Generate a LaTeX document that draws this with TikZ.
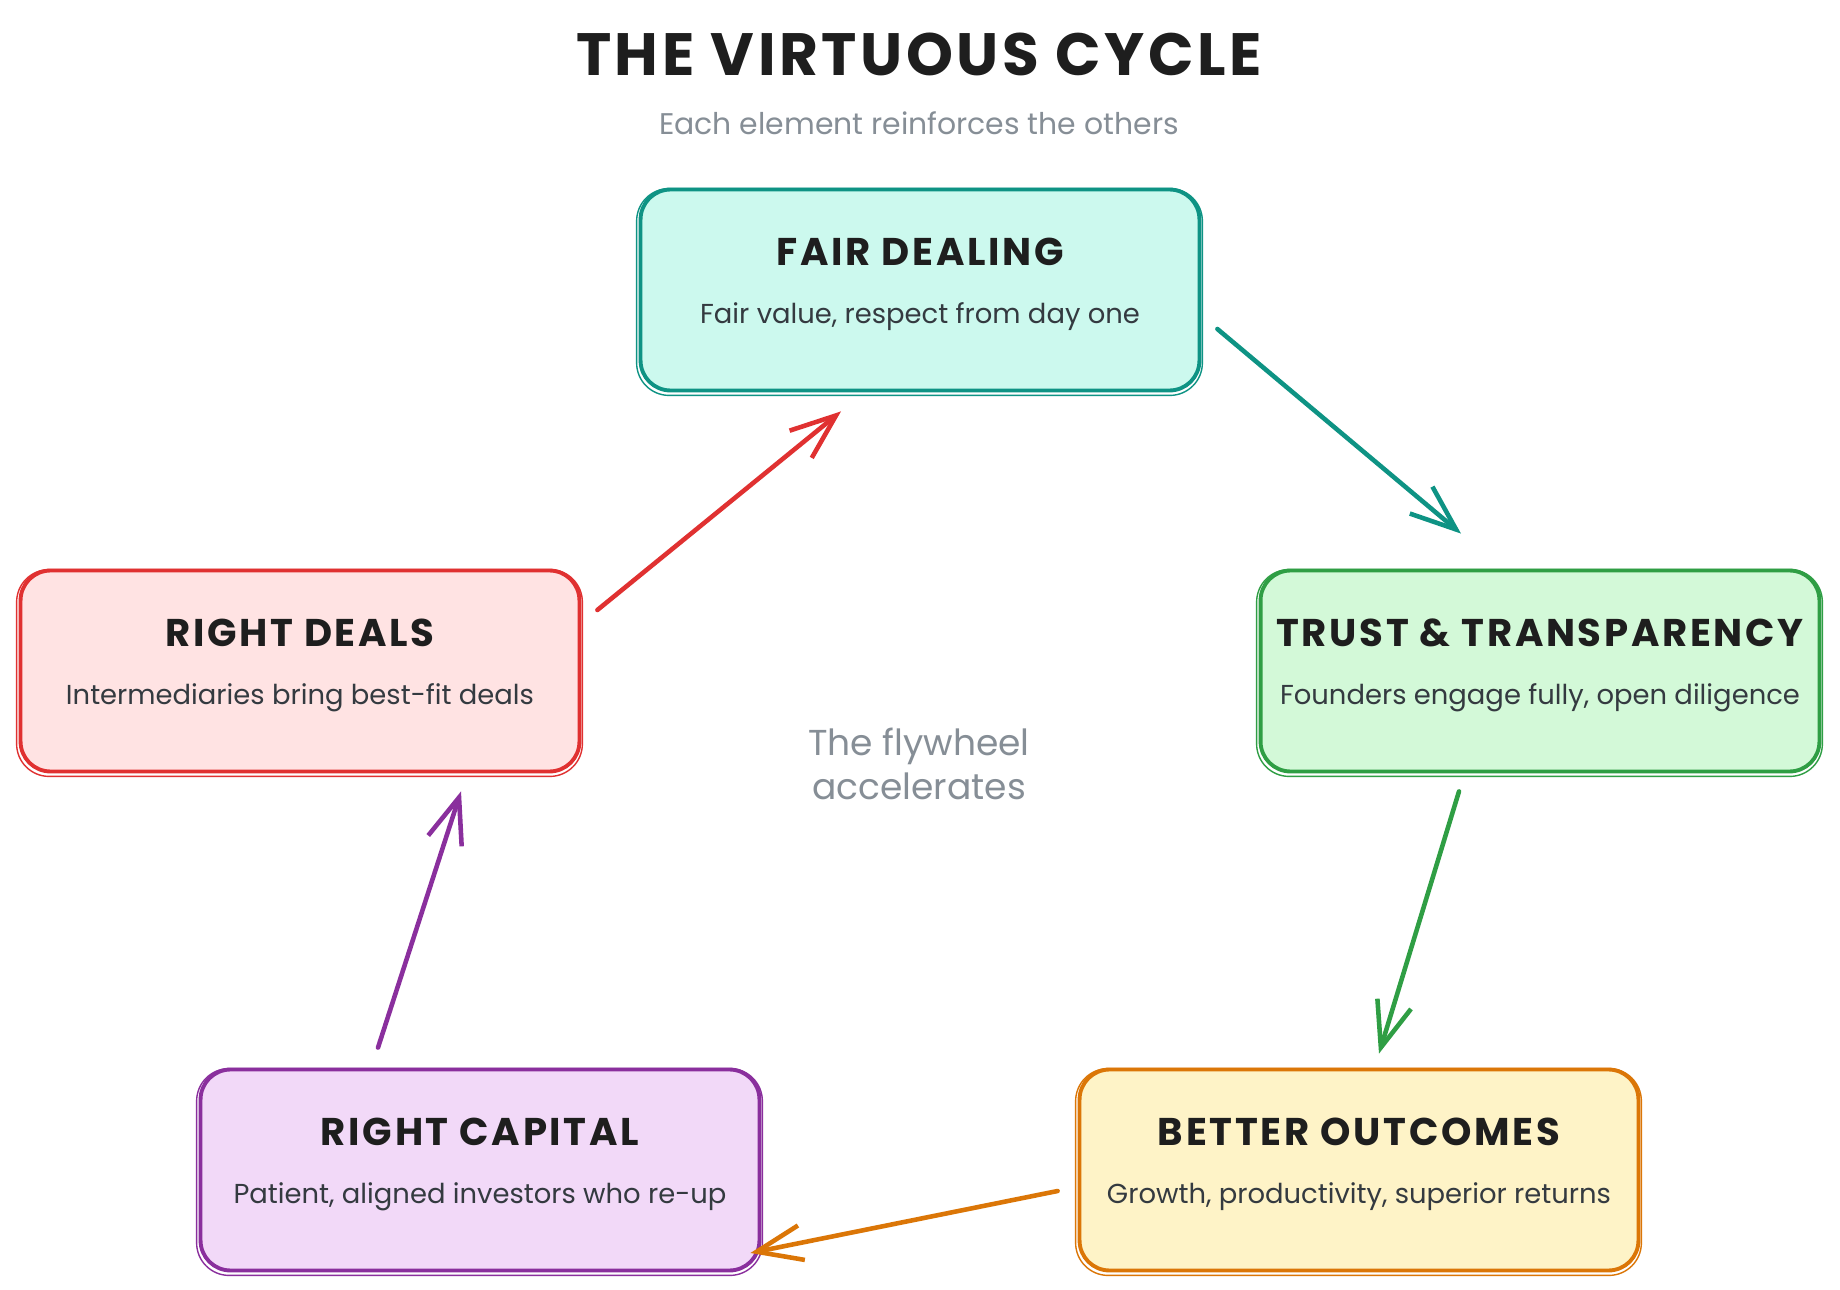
\documentclass[tikz,border=0pt]{standalone}
\usepackage{fontspec}
\setmainfont{Poppins}
\usetikzlibrary{arrows.meta,positioning,calc}
\definecolor{Ink}{HTML}{1E1E1E}
\definecolor{Muted}{HTML}{868E96}
\definecolor{Body}{HTML}{343A40}
\definecolor{TealLine}{HTML}{0E9384}
\definecolor{TealFill}{HTML}{CCF9EE}
\definecolor{GreenLine}{HTML}{2F9E44}
\definecolor{GreenFill}{HTML}{D3F9D8}
\definecolor{AmberLine}{HTML}{DB7607}
\definecolor{AmberFill}{HTML}{FEF3C7}
\definecolor{GrapeLine}{HTML}{8A2F9D}
\definecolor{GrapeFill}{HTML}{F2D9F8}
\definecolor{RedLine}{HTML}{E03131}
\definecolor{RedFill}{HTML}{FFE3E3}

\tikzset{
  card/.style={draw=#1Line,fill=#1Fill,line width=2.2pt,rounded corners=0.6cm,
    minimum width=11.18cm,minimum height=4.02cm,inner sep=0pt},
  cardhead/.style={font=\fontsize{22}{26}\selectfont\bfseries\addfontfeatures{LetterSpace=7},text=Ink},
  cardtext/.style={font=\fontsize{15.6}{18}\selectfont,text=Body},
  flow/.style={draw=#1Line,line width=2.6pt,line cap=round,
    -{Straight Barb[length=26pt,width=20pt]}},
}

\begin{document}
\begin{tikzpicture}[x=0.02cm,y=-0.02cm]
\useasboundingbox[fill=white] (0,0) rectangle (1840,1290);

% heading
\node[font=\fontsize{34}{40}\selectfont\bfseries\addfontfeatures{LetterSpace=6},text=Ink] (title) at (919,54) {THE VIRTUOUS CYCLE};
\node[font=\fontsize{17}{20}\selectfont,text=Muted] (subtitle) at (919,123) {Each element reinforces the others};

% the five stages
\node[card=Teal] (fair) at (920,290) {};
\node[card=Green] (trust) at (1540,671) {};
\node[card=Amber] (better) at (1359,1170) {};
\node[card=Grape] (capital) at (480,1170) {};
\node[card=Red] (deals) at (300,671) {};

% rough second outline
\foreach \n/\col in {fair/Teal,trust/Green,better/Amber,capital/Grape,deals/Red}
  \draw[draw=\col Line,line width=0.8pt,rounded corners=0.65cm]
    ([shift={(-2,1)}]\n.north west) rectangle ([shift={(1,3)}]\n.south east);

\node[cardhead] (fairT) at ($(fair)+(0,-38)$) {FAIR DEALING};
\node[cardtext] (fairS) at ($(fair)+(0,27)$) {Fair value, respect from day one};
\node[cardhead] (trustT) at ($(trust)+(0,-38)$) {TRUST \& TRANSPARENCY};
\node[cardtext] (trustS) at ($(trust)+(0,27)$) {Founders engage fully, open diligence};
\node[cardhead] (betterT) at ($(better)+(0,-38)$) {BETTER OUTCOMES};
\node[cardtext] (betterS) at ($(better)+(0,27)$) {Growth, productivity, superior returns};
\node[cardhead] (capitalT) at ($(capital)+(0,-38)$) {RIGHT CAPITAL};
\node[cardtext] (capitalS) at ($(capital)+(0,27)$) {Patient, aligned investors who re-up};
\node[cardhead] (dealsT) at ($(deals)+(0,-38)$) {RIGHT DEALS};
\node[cardtext] (dealsS) at ($(deals)+(0,27)$) {Intermediaries bring best-fit deals};

\node[align=center,font=\fontsize{20.5}{25}\selectfont,text=Muted] (hub) at (919,764) {The flywheel\\accelerates};

% cycle
\draw[flow=Teal] ($(fair.east)+(16,39)$) -- ($(trust.north)+(-79,-35)$);
\draw[flow=Green] ($(trust.south)+(-81,18)$) -- ($(better.north)+(20,-14)$);
\draw[flow=Amber] ($(better.west)+(-20,21)$) -- ($(capital.east)+(-11,83)$);
\draw[flow=Grape] ($(capital.north)+(-102,-20)$) -- ($(deals.south)+(161,18)$);
\draw[flow=Red] ($(deals.east)+(16,-61)$) -- ($(fair.south)+(-79,19)$);
\end{tikzpicture}
\end{document}
